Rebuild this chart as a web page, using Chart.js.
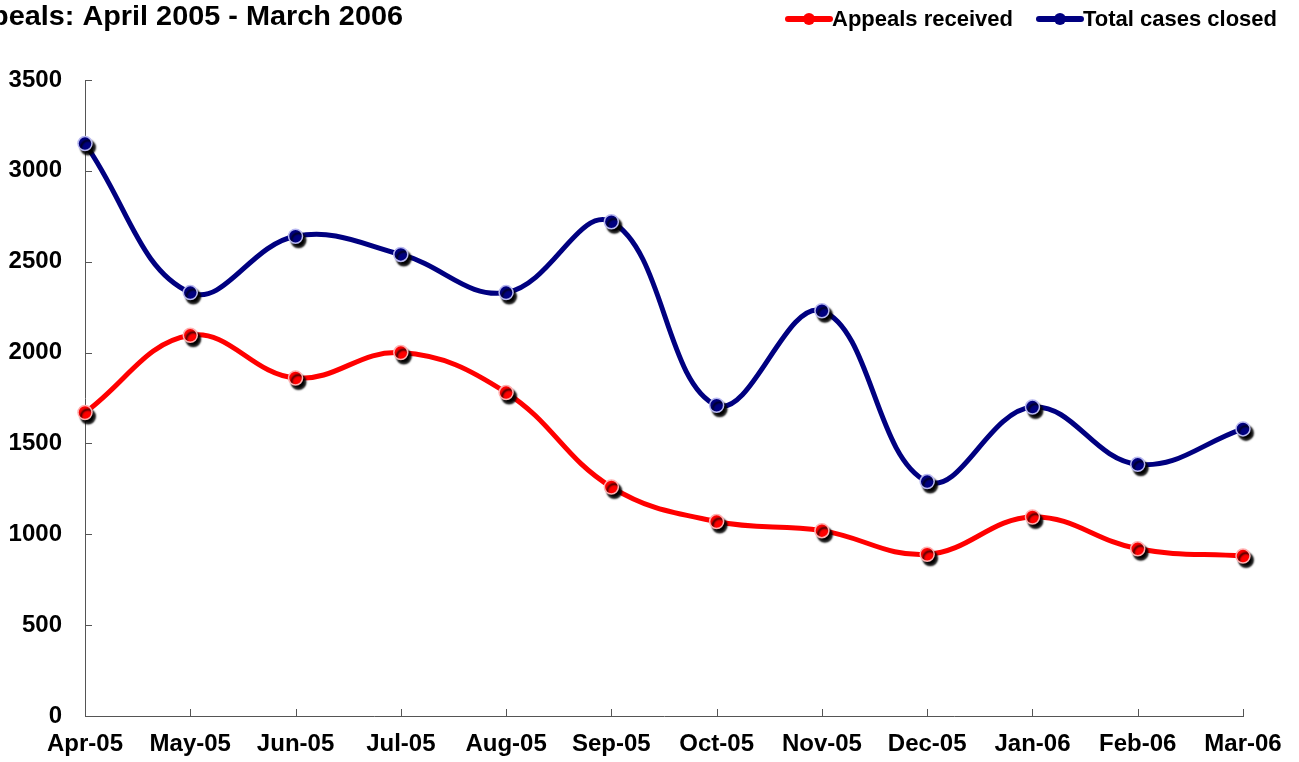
<!DOCTYPE html>
<html>
<head>
<meta charset="utf-8">
<script src="https://cdn.jsdelivr.net/npm/chart.js@4.4.0/dist/chart.umd.min.js"></script>
<style>
  html, body { margin: 0; padding: 0; background: #fff; }
  #wrap { width: 1299px; height: 762px; }
</style>
</head>
<body>
<div id="wrap"><canvas id="appealsChart" width="1299" height="762"></canvas></div>
<script>
const TITLE = 'Appeals: April 2005 - March 2006';
const months = ['Apr-05', 'May-05', 'Jun-05', 'Jul-05', 'Aug-05', 'Sep-05',
                'Oct-05', 'Nov-05', 'Dec-05', 'Jan-06', 'Feb-06', 'Mar-06'];
const appealsReceived = [1670, 2095, 1860, 2000, 1780, 1260, 1070, 1020, 890, 1095, 920, 880];
const totalCasesClosed = [3150, 2330, 2640, 2540, 2330, 2720, 1710, 2230, 1290, 1700, 1385, 1580];
const yTicks = [0, 500, 1000, 1500, 2000, 2500, 3000, 3500];

const FONT = '"Liberation Sans", Arial, sans-serif';
const RED = '#ff0000';
const NAVY = '#000080';

// line datasets (no markers) + marker datasets (with shadow)
function lineSet(label, data, color) {
    return {
        label, data,
        borderColor: color, borderWidth: 5,
        pointRadius: 0, tension: 0.4,
        fill: false, clip: false, isLine: true
    };
}
function markerSet(label, data, color, edge) {
    return {
        label, data, showLine: false,
        backgroundColor: color, borderColor: edge, borderWidth: 1.5,
        pointRadius: 7, pointHoverRadius: 7,
        clip: false, isMarker: true
    };
}

// shadow under markers only
const markerShadow = {
    id: 'markerShadow',
    beforeDatasetDraw(chart, args) {
        const ds = chart.data.datasets[args.index];
        if (!ds.isMarker) return;
        const ctx = chart.ctx;
        ctx.save();
        ctx.shadowColor = 'rgba(0,0,0,1)';
        ctx.shadowOffsetX = 3;
        ctx.shadowOffsetY = 4;
        ctx.shadowBlur = 2;
    },
    afterDatasetDraw(chart, args) {
        const ds = chart.data.datasets[args.index];
        if (ds.isMarker) chart.ctx.restore();
    }
};

// small tick marks pointing into the plot
const innerTicks = {
    id: 'innerTicks',
    afterDraw(chart) {
        const ctx = chart.ctx;
        const x = chart.scales.x, y = chart.scales.y;
        ctx.save();
        ctx.strokeStyle = '#555';
        ctx.lineWidth = 1;
        ctx.beginPath();
        y.ticks.forEach((t, i) => {
            const py = Math.round(y.getPixelForTick(i)) + 0.5;
            ctx.moveTo(x.left, py);
            ctx.lineTo(x.left + 7, py);
        });
        x.ticks.forEach((t, i) => {
            const px = Math.round(x.getPixelForTick(i)) + 0.5;
            ctx.moveTo(px, y.bottom);
            ctx.lineTo(px, y.bottom - 7);
        });
        ctx.stroke();
        ctx.restore();
    }
};

// cropped title + line/dot legend at the top
const header = {
    id: 'header',
    afterDraw(chart) {
        const ctx = chart.ctx;
        ctx.save();
        ctx.fillStyle = '#000';
        ctx.font = 'bold 28px ' + FONT;
        ctx.textAlign = 'right';
        ctx.textBaseline = 'alphabetic';
        // source title is a little wider than Liberation Sans, stretch it
        ctx.translate(403, 25);
        ctx.scale(1.03, 1);
        ctx.fillText(TITLE, 0, 0);
        ctx.restore();

        ctx.save();
        const items = [
            { text: 'Appeals received', color: RED },
            { text: 'Total cases closed', color: NAVY }
        ];
        ctx.font = 'bold 22px ' + FONT;
        ctx.textAlign = 'left';
        ctx.textBaseline = 'middle';
        let right = 1277;
        for (let i = items.length - 1; i >= 0; i--) {
            const it = items[i];
            const w = ctx.measureText(it.text).width;
            const tx = right - w;
            const cy = 19;
            ctx.fillStyle = '#000';
            ctx.fillText(it.text, tx, cy + 1);
            const lx1 = tx - 44, lx2 = tx - 2;
            ctx.strokeStyle = it.color;
            ctx.lineWidth = 6;
            ctx.lineCap = 'round';
            ctx.beginPath();
            ctx.moveTo(lx1, cy);
            ctx.lineTo(lx2, cy);
            ctx.stroke();
            ctx.fillStyle = it.color;
            ctx.beginPath();
            ctx.arc((lx1 + lx2) / 2, cy, 6, 0, Math.PI * 2);
            ctx.fill();
            right = lx1 - 26;
        }
        ctx.restore();
    }
};

new Chart(document.getElementById('appealsChart'), {
    type: 'line',
    data: {
        labels: months,
        datasets: [
            markerSet('Appeals received', appealsReceived, RED, '#ffb0b0'),
            markerSet('Total cases closed', totalCasesClosed, NAVY, '#b8b8f0'),
            lineSet('Appeals received', appealsReceived, RED),
            lineSet('Total cases closed', totalCasesClosed, NAVY)
        ]
    },
    options: {
        responsive: false,
        animation: false,
        layout: { padding: { top: 80, right: 56, left: 0, bottom: 0 } },
        plugins: {
            legend: { display: false },
            title: { display: false },
            tooltip: { enabled: false }
        },
        scales: {
            x: {
                offset: false,
                grid: { display: false, drawTicks: false },
                border: { display: true, color: '#555', width: 1 },
                ticks: {
                    color: '#000', padding: 14, maxRotation: 0, autoSkip: false,
                    font: { family: FONT, size: 24, weight: 'bold' }
                },
                afterFit(scale) { scale.height = 46; }
            },
            y: {
                min: 0, max: 3500,
                afterBuildTicks(scale) { scale.ticks = yTicks.map(v => ({ value: v })); },
                grid: { display: false, drawTicks: false },
                border: { display: true, color: '#555', width: 1 },
                ticks: {
                    color: '#000', padding: 23,
                    callback: v => String(v),
                    font: { family: FONT, size: 24, weight: 'bold' }
                },
                afterFit(scale) { scale.width = 85; }
            }
        }
    },
    plugins: [markerShadow, innerTicks, header]
});
</script>
</body>
</html>
